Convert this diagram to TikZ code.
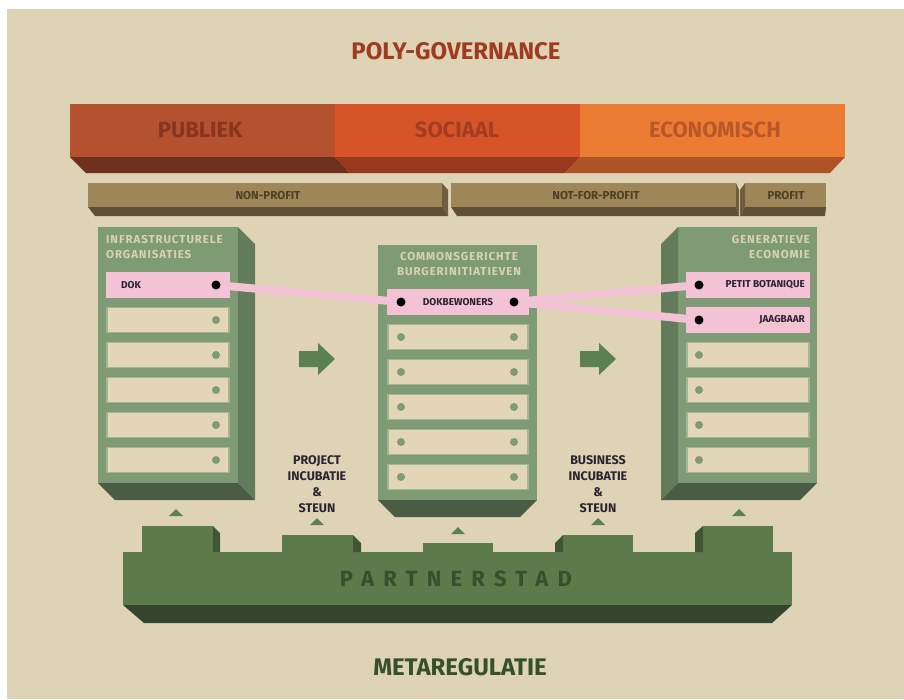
\documentclass[tikz,border=0pt]{standalone}
\usepackage{fontspec}
\setmainfont{Fira Sans}
\newfontfamily\spacedfont{Fira Sans}[LetterSpace=42]
\newfontfamily\titlefont{Fira Sans}[LetterSpace=8]
\usetikzlibrary{positioning}
\definecolor{bg-beige}{HTML}{DFD3B5}
\definecolor{poly-red}{HTML}{9E3B20}
\definecolor{publiek-top}{HTML}{B4512F}
\definecolor{publiek-bot}{HTML}{70301E}
\definecolor{publiek-txt}{HTML}{86361F}
\definecolor{sociaal-top}{HTML}{D75429}
\definecolor{sociaal-bot}{HTML}{98391F}
\definecolor{sociaal-txt}{HTML}{A33D20}
\definecolor{econ-top}{HTML}{EC7C33}
\definecolor{econ-bot}{HTML}{AE5325}
\definecolor{econ-txt}{HTML}{B85829}
\definecolor{tan-front}{HTML}{9D8658}
\definecolor{tan-bot}{HTML}{5F4F33}
\definecolor{tan-side}{HTML}{6F5D3D}
\definecolor{tan-txt}{HTML}{4E3F26}
\definecolor{col-front}{HTML}{7F9B76}
\definecolor{col-side}{HTML}{627C5B}
\definecolor{col-bot}{HTML}{4B5C45}
\definecolor{col-title}{HTML}{D9D2B0}
\definecolor{slot-bg}{HTML}{E2D6B7}
\definecolor{slot-edge}{HTML}{A3B594}
\definecolor{link-pink}{HTML}{F3C3D5}
\definecolor{arrow-green}{HTML}{5B8150}
\definecolor{base-front}{HTML}{5D7B4A}
\definecolor{base-side}{HTML}{3F5535}
\definecolor{base-bot}{HTML}{344530}
\definecolor{base-txt}{HTML}{36502E}
\definecolor{label-txt}{HTML}{2A2230}

\pgfdeclarelayer{back}
\pgfdeclarelayer{links}
\pgfsetlayers{back,links,main}

\tikzset{
  slot/.style={draw=slot-edge, fill=slot-bg, line width=1.2pt, minimum height=25pt, inner sep=0pt},
  pinkslot/.style={slot, draw=link-pink, fill=link-pink},
  dot/.style={circle, fill=col-front, minimum size=8pt, inner sep=0pt},
  blackdot/.style={dot, fill=black, minimum size=9pt},
  slotlabel/.style={text=label-txt, font=\bfseries\fontsize{10}{10}\selectfont, inner sep=0pt},
  coltitle/.style={text=col-title, font=\titlefont\bfseries\fontsize{11.5}{15}\selectfont, inner sep=0pt},
  tanlabel/.style={text=tan-txt, font=\bfseries\fontsize{11.5}{12}\selectfont},
  steplabel/.style={text=label-txt, align=center, font=\bfseries\fontsize{12.5}{16}\selectfont},
  link/.style={link-pink, line width=8pt},
  tri/.style={fill=arrow-green}
}

\begin{document}
\begin{tikzpicture}[x=1pt,y=-1pt]
\useasboundingbox (0,0) rectangle (904,699);

\begin{pgfonlayer}{back}
\fill[white] (0,0) rectangle (904,699);
\fill[bg-beige] (7,9) rectangle (904,699);
% top bar
\fill[publiek-top] (70,104) rectangle (335,157);
\fill[sociaal-top] (335,104) rectangle (580,157);
\fill[econ-top] (580,104) rectangle (845,157);
\fill[publiek-bot] (70,157) -- (335,157) -- (350,173) -- (86,173) -- cycle;
\fill[sociaal-bot] (335,157) -- (580,157) -- (565,173) -- (350,173) -- cycle;
\fill[econ-bot] (580,157) -- (845,157) -- (830,173) -- (565,173) -- cycle;
% tan bars
\fill[tan-front] (88,183) rectangle (442,207);
\fill[tan-side] (442,183) -- (448,190) -- (448,216) -- (442,207) -- cycle;
\fill[tan-bot] (88,207) -- (442,207) -- (448,216) -- (95,216) -- cycle;
\fill[tan-front] (451,183) rectangle (736,207);
\fill[tan-side] (736,183) -- (739,190) -- (739,216) -- (736,207) -- cycle;
\fill[tan-bot] (451,207) -- (736,207) -- (739,216) -- (457,216) -- cycle;
\fill[tan-front] (745,183) rectangle (826,207);
\fill[tan-side] (745,183) -- (740,190) -- (740,216) -- (745,207) -- cycle;
\fill[tan-bot] (745,207) -- (826,207) -- (825,216) -- (740,216) -- cycle;
% columns
\fill[col-front] (98,227) rectangle (238,483);
\fill[col-side] (238,227) -- (255,244) -- (255,500) -- (238,483) -- cycle;
\fill[col-bot] (98,483) -- (238,483) -- (255,500) -- (115,500) -- cycle;
\fill[col-front] (378,245) rectangle (537,500);
\fill[col-bot] (378,500) -- (537,500) -- (520,517) -- (395,517) -- cycle;
\fill[col-front] (678,227) rectangle (817,483);
\fill[col-side] (678,227) -- (661,244) -- (661,500) -- (678,483) -- cycle;
\fill[col-bot] (678,483) -- (817,483) -- (800,500) -- (661,500) -- cycle;
% partnerstad
\fill[base-front] (123,552) rectangle (792,605);
\fill[base-bot] (123,605) -- (792,605) -- (772,623) -- (144,623) -- cycle;
\fill[base-front] (142,526) rectangle (213,553);
\fill[base-side] (213,526) -- (220,533) -- (220,552) -- (213,552) -- cycle;
\fill[base-front] (282,535) rectangle (353,553);
\fill[base-side] (353,535) -- (361,543) -- (361,552) -- (353,552) -- cycle;
\fill[base-front] (423,543) rectangle (493,553);
\fill[base-front] (563,535) rectangle (633,553);
\fill[base-side] (563,535) -- (555,543) -- (555,552) -- (563,552) -- cycle;
\fill[base-front] (703,526) rectangle (773,553);
\fill[base-side] (703,526) -- (695,533) -- (695,552) -- (703,552) -- cycle;
% arrows and triangles
\foreach \x in {317,598}
  \fill[arrow-green] ({\x-18},351) -- ({\x+1},351) -- ({\x+1},343) -- ({\x+18},359)
    -- ({\x+1},375) -- ({\x+1},367) -- ({\x-18},367) -- cycle;
\foreach \x/\y in {176/516, 317/525, 458/534, 598/525, 739/516}
  \fill[tri] (\x,{\y-7}) -- ({\x+7},\y) -- ({\x-7},\y) -- cycle;
\end{pgfonlayer}

% titles
\node[text=poly-red, font=\bfseries\fontsize{24}{24}\selectfont] (poly) at (456,51) {POLY-GOVERNANCE};
\node[text=publiek-txt, font=\bfseries\fontsize{22}{22}\selectfont] (publiek) at (200,130) {PUBLIEK};
\node[text=sociaal-txt, font=\bfseries\fontsize{22}{22}\selectfont] (sociaal) at (457,130) {SOCIAAL};
\node[text=econ-txt, font=\bfseries\fontsize{22}{22}\selectfont] (economisch) at (715,130) {ECONOMISCH};
\node[tanlabel] (nonprofit) at (268,196) {NON-PROFIT};
\node[tanlabel] (notforprofit) at (596,196) {NOT-FOR-PROFIT};
\node[tanlabel] (profit) at (786,196) {PROFIT};

% column titles
\node[coltitle, align=left, anchor=north west] (infra) at (106,235) {INFRASTRUCTURELE\\ORGANISATIES};
\node[coltitle, align=center, anchor=north] (commons) at (459,252) {COMMONSGERICHTE\\BURGERINITIATIEVEN};
\node[coltitle, align=right, anchor=north east] (generatief) at (810,235) {GENERATIEVE\\ECONOMIE};

% slots left column
\node[pinkslot, minimum width=122pt] (dok) at (168,285) {};
\node[blackdot] (dok-dot) at (216,285) {};
\node[slotlabel, anchor=west] (dok-txt) at (121,285) {DOK};
\foreach \i in {1,...,5}{
  \node[slot, minimum width=122pt] (infra-\i) at (168,{285+35*\i}) {};
  \node[dot] (infra-\i-dot) at (216,{285+35*\i}) {};
}

% slots middle column
\node[pinkslot, minimum width=140pt] (dokbewoners) at (458,302) {};
\node[blackdot] (dokbewoners-l) at (401,302) {};
\node[blackdot] (dokbewoners-r) at (514,302) {};
\node[slotlabel] (dokbewoners-txt) at (458,302) {DOKBEWONERS};
\foreach \i in {1,...,5}{
  \node[slot, minimum width=140pt] (commons-\i) at (458,{302+35*\i}) {};
  \node[dot] (commons-\i-l) at (401,{302+35*\i}) {};
  \node[dot] (commons-\i-r) at (514,{302+35*\i}) {};
}

% slots right column
\node[pinkslot, minimum width=122pt] (petit) at (748,285) {};
\node[blackdot] (petit-dot) at (699,285) {};
\node[slotlabel, anchor=east] (petit-txt) at (805,285) {PETIT BOTANIQUE};
\node[pinkslot, minimum width=122pt] (jaagbaar) at (748,320) {};
\node[blackdot] (jaagbaar-dot) at (699,320) {};
\node[slotlabel, anchor=east] (jaagbaar-txt) at (805,320) {JAAGBAAR};
\foreach \i in {2,...,5}{
  \node[slot, minimum width=122pt] (gen-\i) at (748,{285+35*\i}) {};
  \node[dot] (gen-\i-dot) at (699,{285+35*\i}) {};
}

% pink links
\begin{pgfonlayer}{links}
\draw[link] (dok-dot.center) -- (dokbewoners-l.center);
\draw[link] (dokbewoners-r.center) -- (petit-dot.center);
\draw[link] (dokbewoners-r.center) -- (jaagbaar-dot.center);
\end{pgfonlayer}

% incubation labels
\node[steplabel] (project) at (317,484) {PROJECT\\INCUBATIE\\\&\\STEUN};
\node[steplabel] (business) at (598,484) {BUSINESS\\INCUBATIE\\\&\\STEUN};

\node[text=base-txt, font=\spacedfont\bfseries\fontsize{22}{22}\selectfont] (partnerstad) at (456,579) {PARTNERSTAD};
\node[text=base-txt, font=\bfseries\fontsize{24}{24}\selectfont] (meta) at (460,667) {METAREGULATIE};
\end{tikzpicture}
\end{document}
